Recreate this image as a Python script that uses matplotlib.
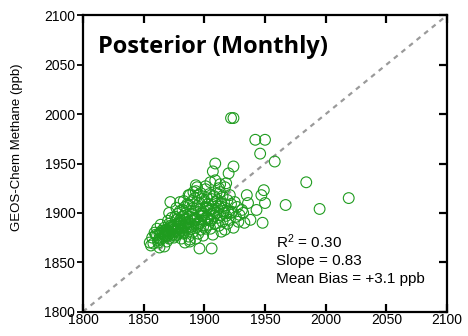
import matplotlib
matplotlib.use("Agg")
import matplotlib.pyplot as plt

plt.rcParams['font.family'] = ['Liberation Sans', 'DejaVu Sans']
plt.rcParams['mathtext.fontset'] = 'custom'
plt.rcParams['mathtext.rm'] = 'Liberation Sans'
plt.rcParams['mathtext.it'] = 'Liberation Sans'

# Observed (x) and GEOS-Chem posterior (y) monthly methane, ppb
obs = [
    1856, 1858, 1857, 1860, 1859, 1861, 1862, 1855,
    1863, 1867, 1864, 1866, 1863, 1865, 1867, 1864, 1868, 1866, 1862,
    1869, 1871, 1870, 1872, 1869, 1873, 1871, 1870, 1874, 1872, 1873, 1871, 1872, 1868, 1870,
    1875, 1877, 1876, 1878, 1875, 1879, 1877, 1876, 1878, 1880, 1879, 1874, 1880, 1880, 1877, 1876, 1879,
    1881, 1883, 1882, 1885, 1884, 1881, 1886, 1883, 1885, 1882, 1884, 1886, 1883, 1887, 1881, 1885, 1882, 1884,
    1888, 1887, 1890, 1889, 1891, 1887, 1892, 1888, 1890, 1889, 1891, 1887, 1890, 1892, 1888, 1891, 1889, 1892, 1888,
    1896, 1893, 1895, 1897, 1894, 1896, 1893, 1898, 1895, 1897, 1894, 1896, 1898, 1895, 1893, 1894, 1897, 1898,
    1899, 1901, 1903, 1900, 1902, 1899, 1904, 1901, 1903, 1900, 1902, 1904, 1899, 1903, 1902, 1901,
    1906, 1907, 1905, 1909, 1906, 1908, 1910, 1905, 1907, 1909, 1906, 1908, 1910, 1909, 1907, 1909, 1905, 1908,
    1914, 1912, 1915, 1911, 1913, 1916, 1912, 1914, 1911, 1915, 1913, 1912, 1916, 1914,
    1917, 1919, 1921, 1918, 1920, 1917, 1922, 1919, 1921, 1918, 1920, 1922,
    1924, 1928, 1926, 1923, 1927, 1925, 1924, 1922, 1924, 1929,
    1931, 1935, 1938, 1933, 1936, 1932,
    1942, 1950, 1946, 1958, 1949, 1947, 1943, 1950, 1948, 1967, 1984, 1995, 2019,
    1861, 1864, 1866, 1868, 1870, 1872, 1874, 1876, 1878, 1880, 1882, 1884, 1886,
    1863, 1867, 1871, 1875, 1879, 1883, 1887, 1891, 1895, 1899, 1903, 1907, 1911,
    1893, 1897, 1901, 1905, 1913, 1917,
]
model = [
    1867, 1869, 1875, 1878, 1880, 1884, 1872, 1870,
    1865, 1866, 1873, 1876, 1879, 1882, 1885, 1888, 1877, 1881, 1870,
    1871, 1874, 1877, 1880, 1883, 1886, 1889, 1892, 1878, 1885, 1895, 1900, 1911, 1876, 1882,
    1875, 1878, 1881, 1884, 1887, 1890, 1893, 1896, 1899, 1902, 1880, 1886, 1889, 1911, 1905, 1877, 1884,
    1874, 1879, 1882, 1885, 1888, 1891, 1894, 1897, 1900, 1903, 1906, 1909, 1912, 1918, 1883, 1890, 1896, 1870,
    1871, 1876, 1880, 1884, 1887, 1890, 1893, 1896, 1899, 1902, 1905, 1908, 1912, 1915, 1918, 1921, 1889, 1895, 1873,
    1864, 1874, 1879, 1883, 1886, 1890, 1894, 1897, 1901, 1904, 1907, 1910, 1914, 1918, 1922, 1926, 1892, 1900,
    1877, 1884, 1888, 1892, 1896, 1899, 1902, 1906, 1909, 1912, 1915, 1919, 1886, 1895, 1905, 1924,
    1864, 1878, 1884, 1889, 1893, 1897, 1900, 1904, 1908, 1911, 1914, 1917, 1920, 1933, 1942, 1950, 1892, 1902,
    1881, 1887, 1891, 1895, 1898, 1902, 1906, 1909, 1913, 1917, 1921, 1925, 1900, 1910,
    1883, 1889, 1893, 1897, 1901, 1905, 1909, 1913, 1918, 1930, 1940, 1900,
    1885, 1891, 1896, 1901, 1906, 1911, 1947, 1996, 1996, 1898,
    1903, 1918, 1893, 1890, 1910, 1900,
    1974, 1974, 1960, 1952, 1923, 1918, 1903, 1910, 1890, 1908, 1931, 1904, 1915,
    1877, 1880, 1879, 1883, 1881, 1887, 1883, 1888, 1886, 1893, 1887, 1894, 1891,
    1874, 1878, 1879, 1882, 1880, 1886, 1885, 1892, 1888, 1897, 1893, 1899, 1904,
    1928, 1920, 1927, 1931, 1929, 1926,
]

ticks = [1800, 1850, 1900, 1950, 2000, 2050, 2100]
title = "Posterior (Monthly)"
stats = ["R$^{2}$ = 0.30", "Slope = 0.83", "Mean Bias = +3.1 ppb"]

fig = plt.figure(figsize=(4.68, 3.36), dpi=100)
ax = fig.add_axes([83/468, 1 - 311.7/336, 364/468, 296.4/336])

ax.plot(ticks, ticks, ls=(0, (2.2, 2.2)), color='#9a9a9a', lw=1.6, zorder=1)
ax.scatter(obs, model, s=60, facecolors='none', edgecolors='#1f9c1f', linewidths=0.8, zorder=2)

ax.set_xlim(1800, 2100)
ax.set_ylim(1800, 2100)
ax.set_xticks(ticks)
ax.set_yticks(ticks)
for sp in ax.spines.values():
    sp.set_linewidth(1.6)
ax.tick_params(axis='x', direction='in', top=True, bottom=True, length=6, width=1.6,
               labelsize=10, pad=1)
ax.tick_params(axis='y', direction='out', left=True, right=False, length=4.5, width=1.3,
               labelsize=10, pad=1)

ax2 = ax.twinx()
ax2.set_ylim(1800, 2100)
ax2.set_yticks(ticks)
ax2.tick_params(axis='y', direction='in', right=True, length=6, width=1.6, labelright=False)
for sp in ax2.spines.values():
    sp.set_visible(False)

ax.set_ylabel("GEOS-Chem Methane (ppb)", fontsize=9.5)
ax.yaxis.set_label_coords(-0.165, 0.556)

ax.text(0.041, 0.873, title, transform=ax.transAxes, fontsize=17, fontweight='bold',
        family=['Open Sans', 'DejaVu Sans'], ha='left', va='baseline')
for yy, s in zip([0.215, 0.158, 0.098], stats):
    ax.text(0.529, yy, s, transform=ax.transAxes, fontsize=11, ha='left', va='baseline')

fig.savefig("out.png", dpi=100)
